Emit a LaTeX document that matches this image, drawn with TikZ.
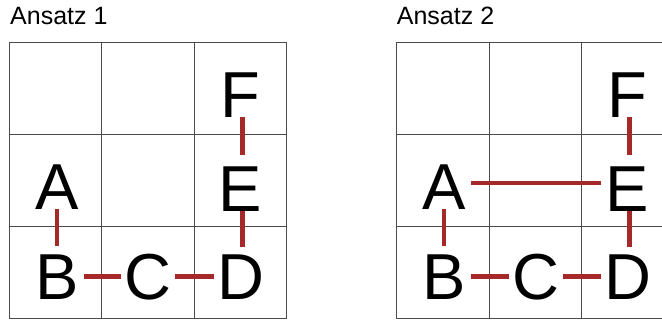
\documentclass[tikz,border=0pt]{standalone}
\usepackage{fontspec}
\setmainfont{Liberation Sans}
\definecolor{linkred}{RGB}{166,41,41}
\definecolor{gridgray}{RGB}{75,75,75}
\begin{document}
\begin{tikzpicture}[x=1pt,y=-1pt,
  gridline/.style={draw=gridgray,line width=1pt},
  letter/.style={font=\fontsize{65}{65}\selectfont,inner sep=0pt,text height=46.6pt,text depth=0pt,anchor=base},
  title/.style={font=\fontsize{25}{25}\selectfont,inner sep=0pt,anchor=base west},
  conn/.style={draw=linkred,line width=4.8pt},
  hconn/.style={conn,shorten <=27pt,shorten >=27pt}]
\useasboundingbox (0,0) rectangle (662,320);
\clip (0,0) rectangle (662,320);
% titles
\node[title] (t1) at (10,25) {Ansatz 1};
\node[title] (t2) at (396.7,25) {Ansatz 2};
% grid 1
\draw[gridline] (9.7,42.7) rectangle (286,318.3);
\draw[gridline] (101.7,42.7) -- (101.7,318.3) (194,42.7) -- (194,318.3);
\draw[gridline] (9.7,135) -- (286,135) (9.7,226.8) -- (286,226.8);
% grid 2
\draw[gridline] (396.7,42.7) rectangle (673,318.3);
\draw[gridline] (489,42.7) -- (489,318.3) (581,42.7) -- (581,318.3);
\draw[gridline] (396.7,135) -- (673,135) (396.7,226.8) -- (673,226.8);
% letters 1
\node[letter] (F1) at (240.5,117.3) {F};
\node[letter] (A1) at (57,209.3) {A};
\node[letter] (E1) at (240.5,211.2) {E};
\node[letter] (B1) at (57,300) {B};
\node[letter] (C1) at (147.5,300) {C};
\node[letter] (D1) at (240.5,300) {D};
% letters 2
\node[letter] (F2) at (627.5,117.3) {F};
\node[letter] (A2) at (444,209.3) {A};
\node[letter] (E2) at (627.5,211.2) {E};
\node[letter] (B2) at (444,300) {B};
\node[letter] (C2) at (535.8,300) {C};
\node[letter] (D2) at (627.5,300) {D};
% connectors 1
\draw[conn] (A1.south) -- ([yshift=7.5pt]B1.north);
\draw[hconn] (B1.center) -- (C1.center);
\draw[hconn] (C1.center) -- (D1.center);
\draw[conn] ([xshift=2pt]E1.south) -- ([xshift=2pt,yshift=6pt]D1.north);
\draw[conn] ([xshift=2pt]F1.south) -- ([xshift=2pt,yshift=9pt]E1.north);
% connectors 2
\draw[conn] (A2.south) -- ([yshift=7.5pt]B2.north);
\draw[hconn] ([yshift=3pt]A2.center) -- ([yshift=4.9pt]E2.center);
\draw[hconn] (B2.center) -- (C2.center);
\draw[hconn] (C2.center) -- (D2.center);
\draw[conn] ([xshift=2pt]E2.south) -- ([xshift=2pt,yshift=6pt]D2.north);
\draw[conn] ([xshift=2pt]F2.south) -- ([xshift=2pt,yshift=9pt]E2.north);
\end{tikzpicture}
\end{document}
